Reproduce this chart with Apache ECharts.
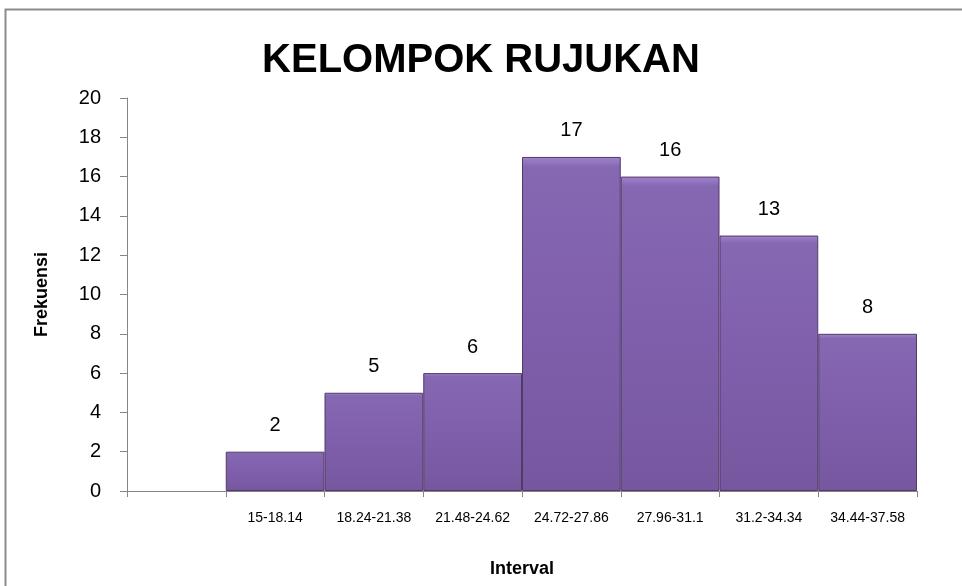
<!DOCTYPE html>
<html>
<head>
<meta charset="utf-8">
<script src="https://cdn.jsdelivr.net/npm/echarts@6/dist/echarts.min.js"></script>
<style>
  html, body { margin: 0; padding: 0; background: #fff; }
  #chart { width: 962px; height: 586px; }
</style>
</head>
<body>
<div id="chart"></div>
<script>
// kelas interval (kategori pertama sengaja kosong seperti di gambar)
const categories = ['', '15-18.14', '18.24-21.38', '21.48-24.62', '24.72-27.86', '27.96-31.1', '31.2-34.34', '34.44-37.58'];
const frekuensi = [null, 2, 5, 6, 17, 16, 13, 8];
const yTicks = [0, 2, 4, 6, 8, 10, 12, 14, 16, 18, 20];

const myChart = echarts.init(document.getElementById('chart'));
const fontFam = '"Liberation Sans", "DejaVu Sans", sans-serif';

const option = {
  animation: false,
  textStyle: { fontFamily: fontFam },
  graphic: [
    {
      type: 'rect',
      shape: { x: 5.5, y: 9.5, width: 970, height: 600 },
      style: { fill: 'none', stroke: '#8c8c8c', lineWidth: 2 },
      silent: true
    }
  ],
  title: {
    text: 'KELOMPOK RUJUKAN',
    left: 'center',
    top: 36,
    textStyle: { fontSize: 40, fontWeight: 'bold', color: '#000', fontFamily: fontFam }
  },
  grid: { left: 127, right: 45, top: 98, bottom: 95 },
  xAxis: {
    type: 'category',
    data: categories,
    name: 'Interval',
    nameLocation: 'middle',
    nameGap: 69,
    nameTextStyle: { fontSize: 18, fontWeight: 'bold', color: '#000' },
    axisLine: { lineStyle: { color: '#868686' } },
    axisTick: { show: true, length: 6, lineStyle: { color: '#868686' }, alignWithLabel: false },
    axisLabel: { color: '#000', fontSize: 14, margin: 20, interval: 0 }
  },
  yAxis: {
    type: 'value',
    min: yTicks[0],
    max: yTicks[yTicks.length - 1],
    interval: 2,
    name: 'Frekuensi',
    nameLocation: 'middle',
    nameGap: 76,
    nameRotate: 90,
    nameTextStyle: { fontSize: 18, fontWeight: 'bold', color: '#000' },
    splitLine: { show: false },
    axisLine: { show: true, lineStyle: { color: '#868686' } },
    axisTick: { show: true, length: 7, lineStyle: { color: '#868686' } },
    axisLabel: { color: '#000', fontSize: 20, margin: 26 }
  },
  series: [
    {
      type: 'bar',
      data: frekuensi,
      barCategoryGap: '0%',
      itemStyle: {
        color: new echarts.graphic.LinearGradient(0, 0, 0, 1, [
          { offset: 0, color: '#a283cc' },
          { offset: 0.03, color: '#8667b2' },
          { offset: 0.5, color: '#7f5fab' },
          { offset: 1, color: '#76579f' }
        ]),
        borderColor: '#4f3b68',
        borderWidth: 1
      },
      label: {
        show: true,
        position: 'top',
        distance: 16,
        color: '#000',
        fontSize: 20
      }
    }
  ]
};

myChart.setOption(option, true);
</script>
</body>
</html>
